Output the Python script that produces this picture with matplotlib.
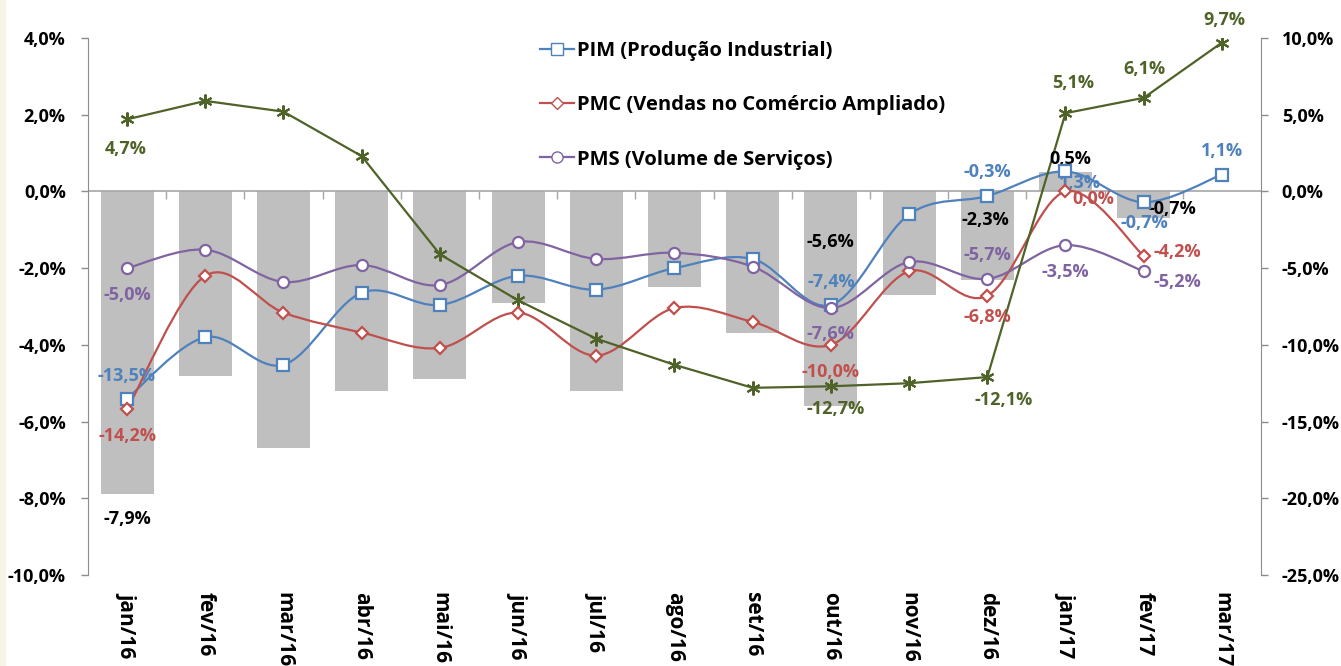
import numpy as np
import matplotlib.pyplot as plt
from matplotlib.path import Path
from matplotlib.patches import PathPatch, Rectangle
from matplotlib.lines import Line2D
from matplotlib.ticker import FuncFormatter

plt.rcParams['font.family'] = ['Open Sans', 'DejaVu Sans']
plt.rcParams['font.weight'] = 'bold'

months = ['jan/16', 'fev/16', 'mar/16', 'abr/16', 'mai/16', 'jun/16', 'jul/16', 'ago/16',
          'set/16', 'out/16', 'nov/16', 'dez/16', 'jan/17', 'fev/17', 'mar/17']
nan = np.nan
bars = [-7.9, -4.8, -6.7, -5.2, -4.9, -2.9, -5.2, -2.5, -3.7, -5.6, -2.7, -2.3, 0.5, -0.7, nan]
pim = [-13.5, -9.5, -11.3, -6.6, -7.4, -5.5, -6.4, -5.0, -4.4, -7.4, -1.5, -0.3, 1.3, -0.7, 1.1]
pmc = [-14.2, -5.5, -7.9, -9.2, -10.2, -7.9, -10.7, -7.6, -8.5, -10.0, -5.2, -6.8, 0.0, -4.2, nan]
pms = [-5.0, -3.8, -5.9, -4.8, -6.1, -3.3, -4.4, -4.0, -4.9, -7.6, -4.6, -5.7, -3.5, -5.2, nan]
green = [4.7, 5.9, 5.2, 2.3, -4.1, -7.1, -9.6, -11.3, -12.8, -12.7, -12.5, -12.1, 5.1, 6.1, 9.7]

C_PIM = '#4F81BD'
C_PMC = '#C0504D'
C_PMS = '#8064A2'
C_GRN = '#4F6228'
GRAY = '#8C8C8C'


def pct(v, pos=None):
    return f'{v:.1f}%'.replace('.', ',')


def smooth_path(x, y):
    # excel-like smoothed line, bezier through every point
    x = np.asarray(x, float)
    y = np.asarray(y, float)
    n = len(x)
    verts = [(x[0], y[0])]
    codes = [Path.MOVETO]
    for i in range(n - 1):
        p0 = np.array([x[max(i - 1, 0)], y[max(i - 1, 0)]])
        p1 = np.array([x[i], y[i]])
        p2 = np.array([x[i + 1], y[i + 1]])
        p3 = np.array([x[min(i + 2, n - 1)], y[min(i + 2, n - 1)]])
        c1 = p1 + (p2 - p0) / 6
        c2 = p2 - (p3 - p1) / 6
        verts += [tuple(c1), tuple(c2), tuple(p2)]
        codes += [Path.CURVE4] * 3
    return Path(verts, codes)


fig = plt.figure(figsize=(13.41, 6.66), dpi=100)
fig.add_artist(Rectangle((0, 0), 6 / 1341, 1, transform=fig.transFigure,
                         color='#F6F4E6', lw=0))
ax = fig.add_axes([88 / 1341, 1 - 575 / 666, (1261 - 88) / 1341, (575 - 38) / 666])
ax2 = ax.twinx()

x = np.arange(len(months))
ax.bar(x, bars, width=0.68, color='#BFBFBF', zorder=1)
ax.axhline(0, color='#A6A6A6', lw=1.2, zorder=2)
ax.vlines(np.arange(0.5, len(months) - 0.5, 1), -0.2, 0, color='#A6A6A6', lw=1, zorder=2)

ax.set_xlim(-0.5, len(months) - 0.5)
ax.set_ylim(-10, 4)
ax2.set_ylim(-25, 10)
ax.set_yticks(np.arange(-10, 4.1, 2))
ax2.set_yticks(np.arange(-25, 10.1, 5))
ax.yaxis.set_major_formatter(FuncFormatter(pct))
ax2.yaxis.set_major_formatter(FuncFormatter(pct))
ax.set_xticks(x)
ax.set_xticklabels(months, rotation=-90, fontsize=15, fontweight='bold', va='top')
ax.tick_params(axis='x', length=0, pad=12)
for a in (ax, ax2):
    a.tick_params(axis='y', labelsize=13, color=GRAY, length=5, width=1)
    for s in a.spines.values():
        s.set_visible(False)
ax.tick_params(axis='y', pad=11)
ax.spines['left'].set_visible(True)
ax.spines['left'].set_color(GRAY)
ax2.spines['right'].set_visible(True)
ax2.spines['right'].set_color(GRAY)
ax2.tick_params(axis='y', pad=10)

# smoothed series
for vals, col, mk in [(pim, C_PIM, 's'), (pmc, C_PMC, 'D'), (pms, C_PMS, 'o')]:
    v = np.array(vals)
    ok = ~np.isnan(v)
    ax2.add_patch(PathPatch(smooth_path(x[ok], v[ok]), fill=False, edgecolor=col, lw=1.6, zorder=3))
    ms = 6.5 if mk == 'D' else 8
    ax2.plot(x[ok], v[ok], ls='none', marker=mk, ms=ms, mfc='white', mec=col, mew=1.6, zorder=4)

ax2.plot(x, green, color=C_GRN, lw=1.6, marker=(6, 2, 0), ms=10, mew=1.5, zorder=3)

# data labels (index, dx px, dy px)
lab = dict(textcoords='offset pixels', ha='center', va='center', fontsize=13, fontweight='bold')
for i, dx, dy in [(0, -1, 23), (9, 0, 23), (11, 0, 24), (12, 14, -12), (13, 1, -21), (14, 0, 24)]:
    ax2.annotate(pct(pim[i]), (x[i], pim[i]), xytext=(dx, dy), color=C_PIM, **lab)
for i, dx, dy in [(0, 0, -27), (9, 0, -27), (11, 0, -21), (12, 28, -8), (13, 34, 4)]:
    ax2.annotate(pct(pmc[i]), (x[i], pmc[i]), xytext=(dx, dy), color=C_PMC, **lab)
for i, dx, dy in [(0, 0, -27), (9, 0, -26), (11, 0, 24), (12, 0, -27), (13, 34, -11)]:
    ax2.annotate(pct(pms[i]), (x[i], pms[i]), xytext=(dx, dy), color=C_PMS, **lab)
for i, dx, dy in [(0, -1, -30), (9, 5, -23), (11, 16, -23), (12, 8, 30), (13, 1, 29), (14, 2, 23)]:
    ax2.annotate(pct(green[i]), (x[i], green[i]), xytext=(dx, dy), color=C_GRN, **lab)
for i, dx, dy in [(0, 0, -25), (9, -1, 164), (11, -2, 60), (12, 5, 13), (13, 29, 9)]:
    ax2.annotate(pct(bars[i]), (x[i], bars[i] * 2.5), xytext=(dx, dy), color='black', **lab)

handles = [Line2D([], [], color=C_PIM, lw=1.6, marker='s', ms=8, mfc='white', mec=C_PIM),
           Line2D([], [], color=C_PMC, lw=1.6, marker='D', ms=6.5, mfc='white', mec=C_PMC),
           Line2D([], [], color=C_PMS, lw=1.6, marker='o', ms=8, mfc='white', mec=C_PMS)]
ax2.legend(handles, ['PIM (Produção Industrial)', 'PMC (Vendas no Comércio Ampliado)',
                     'PMS (Volume de Serviços)'],
           loc='upper left', bbox_to_anchor=(530 / 1341, 1 - 31 / 666), bbox_transform=fig.transFigure,
           frameon=False, handlelength=1.7, handletextpad=0.15, labelspacing=1.7,
           borderpad=0, prop={'weight': 'bold', 'size': 14.5})

fig.savefig('out.png', dpi=100)
